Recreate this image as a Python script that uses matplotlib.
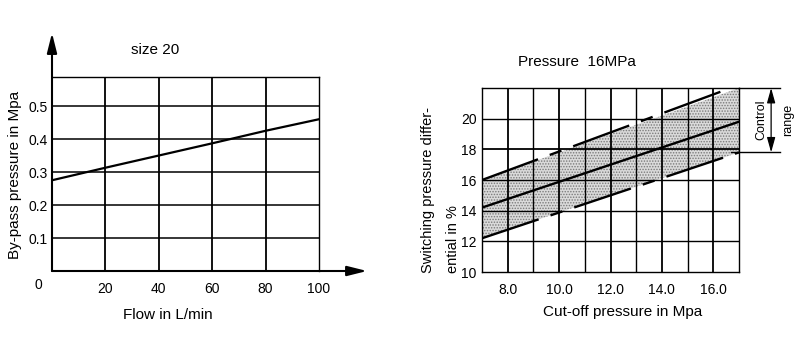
import numpy as np
import matplotlib
matplotlib.use("Agg")
import matplotlib.pyplot as plt

plt.rcParams["font.family"] = ["Liberation Sans", "DejaVu Sans"]
plt.rcParams["lines.scale_dashes"] = False
plt.rcParams["hatch.linewidth"] = 0.7

# ---- left chart data: by-pass pressure vs flow (size 20) ----
flow = [0, 20, 40, 60, 80, 100]
bypass = [0.275, 0.313, 0.350, 0.387, 0.425, 0.460]
flow_ticks = [20, 40, 60, 80, 100]
bypass_ticks = [0.1, 0.2, 0.3, 0.4, 0.5]

# ---- right chart data: switching pressure differential vs cut-off pressure ----
cutoff = [7.0, 17.0]
diff_mid = [14.2, 19.8]
diff_upper = [16.0, 22.2]
diff_lower = [12.2, 17.8]
cutoff_ticks = [8.0, 10.0, 12.0, 14.0, 16.0]
diff_ticks = [10, 12, 14, 16, 18, 20]
ctrl_top, ctrl_bottom = 22.0, 17.8

fig = plt.figure(figsize=(8, 3.5), dpi=100, facecolor="white")

# ================= left panel =================
ax = fig.add_axes([52/800, 1-271/350, 267/800, 194/350])
ax.set_xlim(0, 100)
ax.set_ylim(0, 0.588)
for s in ["left", "bottom"]:
    ax.spines[s].set_visible(False)
for s in ["top", "right"]:
    ax.spines[s].set_linewidth(1.0)
for v in flow_ticks[:-1]:
    ax.axvline(v, color="black", lw=1.3, zorder=1)
for h in bypass_ticks:
    ax.axhline(h, color="black", lw=1.1, zorder=1)
ax.plot(flow, bypass, color="black", lw=1.6, zorder=3)
ax.set_xticks(flow_ticks)
ax.set_xticklabels([str(v) for v in flow_ticks])
ax.set_yticks(bypass_ticks)
ax.set_yticklabels([f"{v:.1f}" for v in bypass_ticks])
ax.tick_params(length=0, labelsize=10)
ax.tick_params(axis="x", pad=8)
ax.tick_params(axis="y", pad=3)
ax.text(-0.05, -0.072, "0", transform=ax.transAxes, ha="center", va="center",
        fontsize=10)
arrow = dict(arrowstyle="-|>,head_length=1.2,head_width=0.3", color="black",
             lw=1.5, shrinkA=0, shrinkB=0)
ax.annotate("", xy=(0, 1.227), xytext=(0, 0), xycoords="axes fraction",
            arrowprops=arrow, annotation_clip=False)
ax.annotate("", xy=(1.18, 0), xytext=(0, 0), xycoords="axes fraction",
            arrowprops=arrow, annotation_clip=False)
fig.text(155/800, 1-50/350, "size 20", ha="center", va="center", fontsize=11)
fig.text(168/800, 1-315/350, "Flow in L/min", ha="center", va="center",
         fontsize=11)
fig.text(15/800, 1-175/350, "By-pass pressure in Mpa", rotation=90,
         ha="center", va="center", fontsize=11)

# ================= right panel =================
ax = fig.add_axes([482/800, 1-272/350, 257/800, 184/350])
ax.set_xlim(7, 17)
ax.set_ylim(10, 22)
for s in ax.spines.values():
    s.set_linewidth(1.0)
for v in range(8, 17):
    ax.axvline(v, color="black", lw=1.3 if v % 2 == 0 else 1.0, zorder=2)
for h in diff_ticks[1:]:
    ax.axhline(h, color="black", lw=1.3 if h == 18 else 1.0, zorder=2)

x = np.array(cutoff)
ax.fill_between(x, diff_lower, np.minimum(diff_upper, ctrl_top),
                facecolor="#dadada", edgecolor="#7a7a7a", hatch="......",
                lw=0, zorder=1)
dash = (0, (43, 9, 9, 9))
ax.plot(cutoff, diff_upper, color="black", lw=1.7, linestyle=dash, zorder=3)
ax.plot(cutoff, diff_lower, color="black", lw=1.7, linestyle=dash, zorder=3)
ax.plot(cutoff, diff_mid, color="black", lw=1.7, zorder=3)

ax.set_xticks(cutoff_ticks)
ax.set_xticklabels([f"{v:.1f}" for v in cutoff_ticks])
ax.set_yticks(diff_ticks)
ax.set_yticklabels([str(v) for v in diff_ticks])
ax.tick_params(length=0, labelsize=10)
ax.tick_params(axis="x", pad=8)
ax.tick_params(axis="y", pad=4)

# control range marker
ax.plot([17, 18.6], [ctrl_top, ctrl_top], color="black", lw=1.0, clip_on=False)
ax.plot([16.7, 18.6], [ctrl_bottom, ctrl_bottom], color="black", lw=1.0,
        clip_on=False)
ax.annotate("", xy=(18.25, ctrl_top), xytext=(18.25, ctrl_bottom),
            arrowprops=dict(arrowstyle="<|-|>,head_length=0.9,head_width=0.25",
                            color="black", lw=0.9, shrinkA=0, shrinkB=0),
            annotation_clip=False)
ax.text(17.88, 19.9, "Control", rotation=90, ha="center", va="center",
        fontsize=9, clip_on=False)
ax.text(18.9, 19.9, "range", rotation=90, ha="center", va="center",
        fontsize=9, clip_on=False)

fig.text(577/800, 1-62/350, "Pressure  16MPa", ha="center", va="center",
         fontsize=11)
fig.text(623/800, 1-312/350, "Cut-off pressure in Mpa", ha="center",
         va="center", fontsize=11)
fig.text(428/800, 1-273/350, "Switching pressure differ-", rotation=90,
         ha="center", va="bottom", fontsize=10.5)
fig.text(453/800, 1-273/350, "ential in %", rotation=90,
         ha="center", va="bottom", fontsize=10.5)

fig.savefig("out.png", dpi=100, facecolor="white")
